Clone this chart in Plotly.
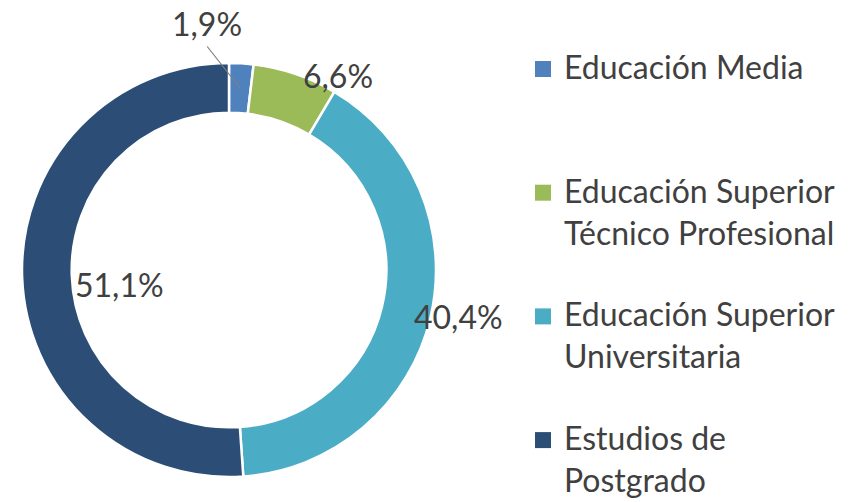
import plotly.graph_objects as go

# Data
categories = ["Educación Media",
              "Educación Superior<br>Técnico Profesional",
              "Educación Superior<br>Universitaria",
              "Estudios de<br>Postgrado"]
values = [1.9, 6.6, 40.4, 51.1]
colors = ["#4F81BD", "#9BBB59", "#4BACC6", "#2C4D75"]
value_labels = ["1,9%", "6,6%", "40,4%", "51,1%"]

W, H = 863, 502
OFF = 8  # page body margin
FONT = "Lato"
TXT = "#404040"


def px(x, y):
    # reference pixel -> paper coords, compensating the page margin
    return (x - OFF) / W, 1 - (y - OFF) / H


dx0, dy1 = px(22, 63)
dx1, dy0 = px(436, 477)
fig = go.Figure(go.Pie(
    labels=categories, values=values, sort=False, direction="clockwise",
    rotation=0, hole=0.76, textinfo="none", hoverinfo="label+percent",
    marker=dict(colors=colors, line=dict(color="white", width=2.5)),
    domain=dict(x=[dx0, dx1], y=[dy0, dy1]),
    showlegend=False))

# Value labels (Excel-style placements)
label_pos = [(207, 24), (338, 75), (458, 316), (120, 284)]
annotations = []
for txt, (lx, ly) in zip(value_labels, label_pos):
    x, y = px(lx, ly)
    annotations.append(dict(text=txt, x=x, y=y, xref="paper", yref="paper",
                            xanchor="center", yanchor="middle", showarrow=False,
                            font=dict(size=32, color=TXT, family=FONT)))
# leader line for the small slice
hx, hy = px(240, 88)
annotations.append(dict(text="", x=hx, y=hy, xref="paper", yref="paper",
                        showarrow=True, arrowhead=0, arrowwidth=1.2, arrowcolor="#7f7f7f",
                        ax=206 - 240, ay=45 - 88, axref="pixel", ayref="pixel",
                        standoff=0, startstandoff=0))

# Custom legend
shapes = []
for i, (cat, col) in enumerate(zip(categories, colors)):
    yc = 69 + 123.7 * i
    x0, y0 = px(535, yc - 8)
    x1, y1 = px(551, yc + 8)
    shapes.append(dict(type="rect", xref="paper", yref="paper", x0=x0, x1=x1,
                       y0=y1, y1=y0, fillcolor=col, line=dict(width=0)))
    tx, ty = px(562, yc - 24)
    annotations.append(dict(text=cat, x=tx, y=ty, xref="paper", yref="paper",
                            xanchor="left", yanchor="top", align="left", showarrow=False,
                            font=dict(size=32, color=TXT, family=FONT)))

fig.update_layout(width=W, height=H, margin=dict(l=0, r=0, t=0, b=0),
                  paper_bgcolor="white", plot_bgcolor="white",
                  annotations=annotations, shapes=shapes)
fig.write_html("out.html")
